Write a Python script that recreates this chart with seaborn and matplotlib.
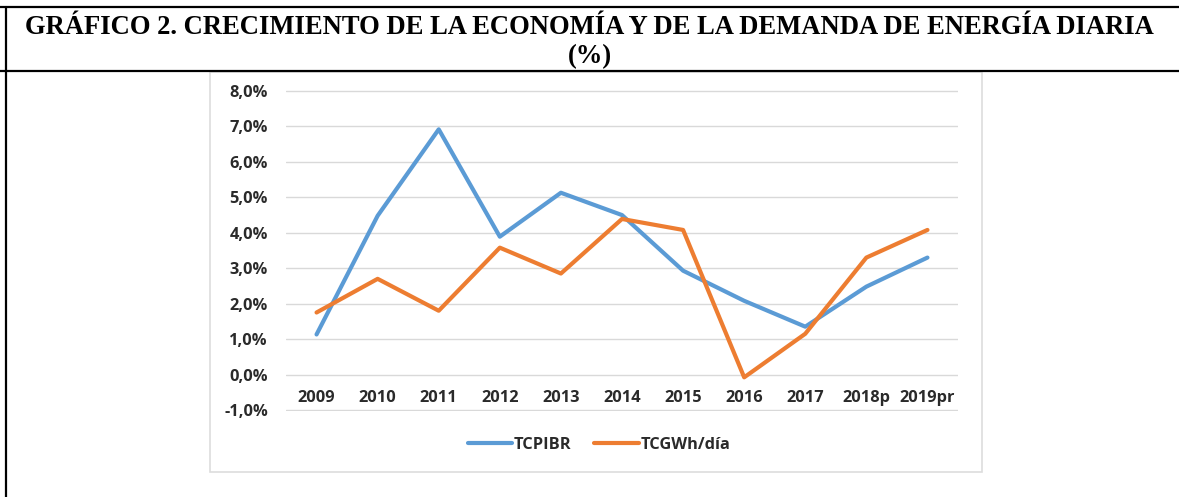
import matplotlib
matplotlib.use("Agg")
import matplotlib.pyplot as plt
import seaborn as sns
import pandas as pd
from matplotlib.lines import Line2D
from matplotlib.patches import Rectangle
from matplotlib.ticker import FuncFormatter

years = ["2009", "2010", "2011", "2012", "2013", "2014", "2015", "2016", "2017", "2018p", "2019pr"]
tcpibr = [1.13, 4.48, 6.92, 3.89, 5.13, 4.50, 2.93, 2.08, 1.35, 2.48, 3.30]
tcgwh = [1.75, 2.70, 1.80, 3.58, 2.85, 4.39, 4.08, -0.08, 1.15, 3.30, 4.08]
series_names = ["TCPIBR", "TCGWh/día"]
colors = ["#5B9BD5", "#ED7D31"]
title_line1 = "GRÁFICO 2. CRECIMIENTO DE LA ECONOMÍA Y DE LA DEMANDA DE ENERGÍA DIARIA"
title_line2 = "(%)"

df = pd.DataFrame({
    "year": years * 2,
    "value": tcpibr + tcgwh,
    "serie": [series_names[0]] * len(years) + [series_names[1]] * len(years),
})

sns.set_theme(style="white")
plt.rcParams["font.family"] = ["Open Sans", "DejaVu Sans"]

W, H = 1179, 497
fig = plt.figure(figsize=(W / 100, H / 100), dpi=100)

def fx(px):
    return px / W

def fy(py):
    return 1 - py / H

# Table frame
for (x0, y0, x1, y1) in [(0, 7, W, 7), (0, 71, W, 71), (6, 7, 6, H)]:
    fig.add_artist(Line2D([fx(x0), fx(x1)], [fy(y0), fy(y1)], color="black", lw=1.6))

fig.text(0.5, fy(27), title_line1, ha="center", va="center",
         fontfamily="Liberation Serif", fontweight="bold", fontsize=19.2, color="black")
fig.text(0.5, fy(57), title_line2, ha="center", va="center",
         fontfamily="Liberation Serif", fontweight="bold", fontsize=19.2, color="black")

# Chart image box
fig.add_artist(Rectangle((fx(210), fy(472)), fx(982) - fx(210), fy(72) - fy(472),
                         fill=False, edgecolor="#DDDDDD", lw=1.2))

ax = fig.add_axes([fx(286), fy(411), fx(958) - fx(286), fy(90) - fy(411)])
sns.lineplot(data=df, x="year", y="value", hue="serie", palette=colors, sort=False,
             linewidth=3.0, ax=ax, legend=False)

ax.set_xlim(-0.5, len(years) - 0.5)
ax.set_ylim(-1.03, 8.03)
ax.set_yticks(range(-1, 9))
ax.yaxis.set_major_formatter(FuncFormatter(lambda v, p: f"{v:.1f}%".replace(".", ",")))
ax.grid(axis="y", color="#D9D9D9", lw=1.0)
ax.grid(axis="x", visible=False)
ax.set_axisbelow(True)
for s in ["top", "right", "left"]:
    ax.spines[s].set_visible(False)
ax.spines["bottom"].set_position(("data", 0))
ax.spines["bottom"].set_visible(False)
ax.set_xlabel("")
ax.set_ylabel("")
ax.tick_params(axis="y", length=0, pad=13, labelsize=11.8, labelcolor="#2A2A2A")
ax.tick_params(axis="x", length=0, pad=11, labelsize=11.8, labelcolor="#2A2A2A")
for lab in ax.get_xticklabels() + ax.get_yticklabels():
    lab.set_fontweight("bold")

handles = [Line2D([0], [0], color=c, lw=3.0) for c in colors]
leg = fig.legend(handles, series_names, loc="center", bbox_to_anchor=(fx(599), fy(445)),
                 ncol=2, frameon=False, handlelength=2.7, handletextpad=0.1,
                 columnspacing=1.4, prop={"family": "Open Sans", "weight": "bold", "size": 11.8})
for t in leg.get_texts():
    t.set_color("#2A2A2A")

fig.savefig("out.png", dpi=100)
